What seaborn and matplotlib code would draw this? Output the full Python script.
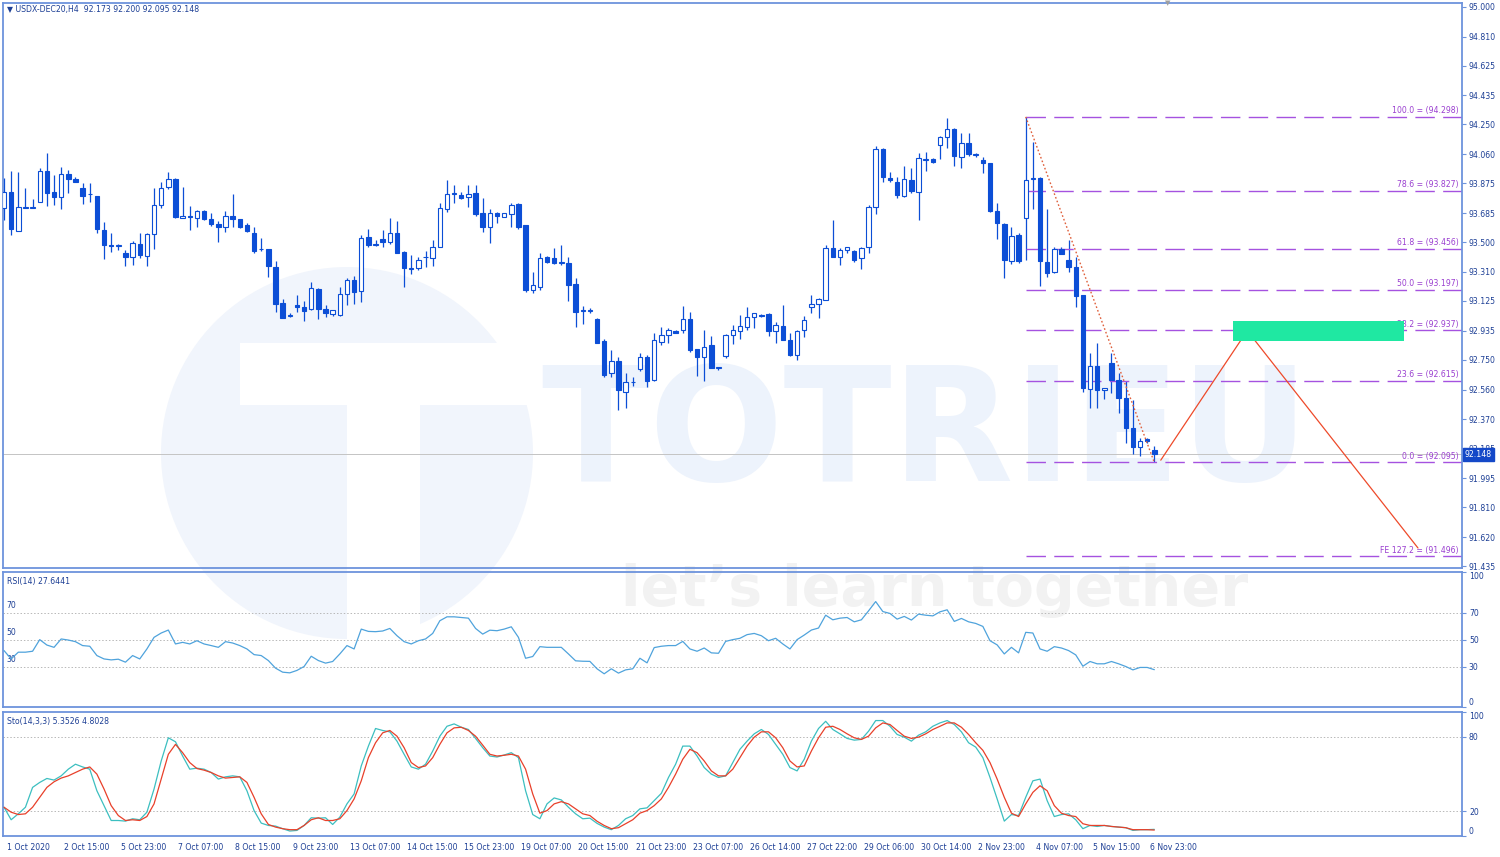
import matplotlib
matplotlib.use("Agg")
import matplotlib.pyplot as plt
import matplotlib.transforms as mtransforms
from matplotlib.patches import Rectangle, Circle
import seaborn as sns
import numpy as np
import pandas as pd

# ---- data (USDX-DEC20, H4) ----
opens = [
    93.719, 93.817, 93.572, 93.719, 93.719, 93.757, 93.952, 93.817, 93.785, 93.931,
    93.901, 93.846, 93.804, 93.793, 93.577, 93.481, 93.475, 93.428, 93.407, 93.487,
    93.411, 93.551, 93.736, 93.848, 93.901, 93.655, 93.668, 93.655, 93.700, 93.647,
    93.613, 93.593, 93.668, 93.644, 93.608, 93.560, 93.455, 93.453, 93.339, 93.113,
    93.029, 93.099, 93.088, 93.071, 93.199, 93.073, 93.039, 93.035, 93.169, 93.258,
    93.190, 93.530, 93.481, 93.519, 93.502, 93.555, 93.439, 93.330, 93.332, 93.403,
    93.400, 93.466, 93.710, 93.806, 93.802, 93.785, 93.810, 93.683, 93.594, 93.683,
    93.662, 93.679, 93.740, 93.609, 93.194, 93.216, 93.403, 93.400, 93.369, 93.369,
    93.230, 93.063, 93.063, 93.008, 92.872, 92.664, 92.745, 92.547, 92.605, 92.690,
    92.770, 92.622, 92.866, 92.908, 92.936, 92.940, 93.008, 92.817, 92.770, 92.845,
    92.700, 92.775, 92.908, 92.930, 92.957, 93.025, 93.038, 93.042, 92.930, 92.966,
    92.877, 92.781, 92.940, 93.089, 93.106, 93.131, 93.461, 93.403, 93.450, 93.446,
    93.397, 93.467, 93.722, 94.091, 93.907, 93.885, 93.794, 93.896, 93.822, 94.023,
    94.028, 94.119, 94.168, 94.221, 94.045, 94.130, 94.055, 94.023, 94.002, 93.701,
    93.613, 93.380, 93.546, 93.652, 93.900, 93.907, 93.376, 93.312, 93.454, 93.386,
    93.344, 93.163, 92.562, 92.707, 92.554, 92.728, 92.622, 92.505, 92.314, 92.193,
    92.244, 92.173,
]
highs = [
    93.906, 93.955, 93.948, 93.842, 93.772, 93.969, 94.065, 93.927, 93.976, 93.959,
    93.912, 93.878, 93.878, 93.793, 93.630, 93.555, 93.485, 93.449, 93.509, 93.555,
    93.555, 93.842, 93.884, 93.948, 93.906, 93.848, 93.729, 93.704, 93.704, 93.687,
    93.636, 93.700, 93.806, 93.644, 93.619, 93.593, 93.528, 93.453, 93.381, 93.135,
    93.046, 93.162, 93.126, 93.247, 93.205, 93.099, 93.067, 93.216, 93.269, 93.284,
    93.545, 93.581, 93.513, 93.577, 93.651, 93.636, 93.445, 93.417, 93.403, 93.445,
    93.513, 93.747, 93.895, 93.863, 93.821, 93.863, 93.863, 93.778, 93.708, 93.693,
    93.687, 93.747, 93.747, 93.609, 93.311, 93.428, 93.411, 93.460, 93.481, 93.403,
    93.269, 93.092, 93.078, 93.015, 92.881, 92.813, 92.770, 92.664, 92.642, 92.792,
    92.781, 92.919, 92.961, 92.951, 92.940, 93.093, 93.057, 92.817, 92.940, 92.902,
    92.702, 92.915, 92.972, 93.036, 93.085, 93.046, 93.042, 93.046, 92.993, 93.099,
    92.923, 92.940, 93.029, 93.163, 93.142, 93.482, 93.641, 93.461, 93.471, 93.450,
    93.471, 93.737, 94.113, 94.102, 93.949, 93.917, 93.985, 93.970, 94.066, 94.077,
    94.034, 94.176, 94.289, 94.225, 94.193, 94.198, 94.066, 94.040, 94.002, 93.747,
    93.620, 93.594, 93.556, 94.298, 94.140, 93.917, 93.709, 93.467, 93.467, 93.514,
    93.407, 93.163, 92.796, 92.855, 92.569, 92.796, 92.668, 92.617, 92.494, 92.250,
    92.250, 92.200,
]
lows = [
    93.640, 93.545, 93.572, 93.715, 93.715, 93.753, 93.732, 93.736, 93.708, 93.810,
    93.880, 93.740, 93.753, 93.555, 93.392, 93.438, 93.449, 93.347, 93.354, 93.396,
    93.347, 93.455, 93.719, 93.836, 93.651, 93.651, 93.577, 93.593, 93.640, 93.602,
    93.498, 93.562, 93.598, 93.587, 93.566, 93.428, 93.443, 93.275, 93.056, 93.014,
    93.024, 93.056, 92.999, 93.067, 93.007, 93.024, 93.029, 93.031, 93.099, 93.105,
    93.120, 93.470, 93.475, 93.466, 93.488, 93.428, 93.211, 93.296, 93.322, 93.343,
    93.349, 93.466, 93.693, 93.747, 93.772, 93.725, 93.666, 93.566, 93.496, 93.619,
    93.662, 93.594, 93.581, 93.184, 93.173, 93.194, 93.369, 93.360, 93.354, 93.126,
    92.957, 92.978, 93.046, 92.855, 92.642, 92.642, 92.430, 92.441, 92.583, 92.675,
    92.579, 92.617, 92.845, 92.855, 92.923, 92.923, 92.802, 92.647, 92.617, 92.696,
    92.685, 92.760, 92.851, 92.881, 92.940, 92.951, 93.025, 92.902, 92.855, 92.877,
    92.775, 92.749, 92.898, 93.046, 93.015, 93.131, 93.403, 93.354, 93.429, 93.376,
    93.327, 93.429, 93.679, 93.885, 93.885, 93.779, 93.790, 93.811, 93.641, 93.955,
    94.006, 94.028, 94.098, 93.985, 93.970, 94.049, 94.040, 93.938, 93.694, 93.518,
    93.269, 93.361, 93.369, 93.386, 93.709, 93.221, 93.280, 93.301, 93.424, 93.312,
    93.085, 92.547, 92.445, 92.445, 92.498, 92.537, 92.409, 92.218, 92.150, 92.137,
    92.222, 92.095,
]
closes = [
    93.817, 93.581, 93.721, 93.719, 93.725, 93.955, 93.810, 93.789, 93.931, 93.901,
    93.884, 93.793, 93.804, 93.581, 93.481, 93.475, 93.475, 93.407, 93.492, 93.417,
    93.551, 93.736, 93.846, 93.901, 93.661, 93.668, 93.657, 93.698, 93.644, 93.613,
    93.593, 93.668, 93.647, 93.598, 93.572, 93.445, 93.453, 93.349, 93.103, 93.018,
    93.029, 93.088, 93.063, 93.205, 93.073, 93.050, 93.065, 93.169, 93.258, 93.184,
    93.524, 93.481, 93.481, 93.502, 93.560, 93.428, 93.337, 93.330, 93.386, 93.403,
    93.466, 93.715, 93.806, 93.806, 93.783, 93.806, 93.679, 93.598, 93.683, 93.666,
    93.685, 93.736, 93.594, 93.194, 93.226, 93.396, 93.371, 93.364, 93.369, 93.226,
    93.056, 93.063, 93.063, 92.859, 92.653, 92.745, 92.554, 92.605, 92.605, 92.770,
    92.617, 92.877, 92.906, 92.940, 92.923, 93.008, 92.809, 92.770, 92.834, 92.696,
    92.700, 92.906, 92.940, 92.966, 93.021, 93.046, 93.027, 92.936, 92.972, 92.877,
    92.781, 92.936, 93.004, 93.106, 93.136, 93.461, 93.403, 93.450, 93.467, 93.386,
    93.461, 93.722, 94.093, 93.917, 93.896, 93.800, 93.902, 93.828, 94.034, 94.023,
    94.013, 94.172, 94.221, 94.049, 94.130, 94.060, 94.055, 94.006, 93.701, 93.620,
    93.386, 93.539, 93.382, 93.896, 93.907, 93.382, 93.305, 93.454, 93.424, 93.344,
    93.157, 92.569, 92.711, 92.558, 92.569, 92.622, 92.505, 92.314, 92.193, 92.235,
    92.229, 92.148,
]

rsi = [
    41.8, 35.6, 40.6, 40.6, 41.3, 49.9, 45.9, 44.2, 50.4, 49.6,
    48.4, 45.5, 45.0, 38.1, 35.6, 34.9, 35.4, 33.2, 38.1, 35.6,
    43.0, 51.6, 54.8, 57.0, 46.7, 47.9, 46.7, 49.1, 46.7, 45.5,
    44.2, 48.4, 47.4, 45.5, 43.0, 38.8, 38.1, 34.4, 28.8, 25.8,
    25.3, 27.1, 30.0, 37.6, 34.4, 32.5, 33.7, 39.3, 45.5, 43.0,
    57.7, 56.0, 55.8, 56.3, 58.2, 52.8, 48.4, 46.7, 49.1, 50.4,
    54.5, 63.9, 66.8, 66.8, 66.3, 65.8, 58.2, 54.0, 56.9, 56.5,
    57.7, 59.4, 51.6, 36.1, 37.4, 44.7, 44.2, 44.2, 44.2, 39.3,
    34.2, 33.9, 33.8, 28.3, 24.6, 28.3, 25.1, 27.5, 28.3, 36.1,
    32.7, 44.0, 45.0, 45.5, 45.5, 48.6, 43.0, 41.3, 43.7, 40.1,
    39.8, 48.6, 49.9, 50.9, 53.6, 54.5, 52.8, 49.1, 50.9, 46.7,
    43.0, 49.9, 53.3, 57.0, 58.5, 68.0, 64.6, 65.8, 66.3, 63.1,
    64.6, 71.2, 78.1, 70.7, 69.3, 65.1, 67.1, 64.4, 68.8, 68.0,
    67.5, 70.5, 72.0, 63.4, 65.6, 63.1, 61.9, 59.7, 49.1, 46.0,
    39.3, 44.2, 40.1, 55.3, 54.8, 43.0, 41.3, 44.7, 43.7, 41.8,
    38.6, 30.2, 33.7, 32.0, 32.0, 33.7, 32.0, 30.0, 27.5, 29.3,
    29.3, 27.64,
]
sto_main = [
    23.2, 13.1, 17.9, 23.2, 39.2, 43.2, 46.4, 45.1, 48.5, 53.9,
    57.9, 55.7, 53.9, 36.5, 24.5, 12.5, 12.5, 12.0, 13.9, 13.1,
    19.2, 37.9, 60.5, 79.2, 76.0, 64.5, 53.9, 54.7, 53.9, 51.2,
    45.9, 47.7, 48.5, 47.7, 36.5, 20.5, 10.4, 8.5, 8.0, 5.9,
    4.0, 4.5, 8.5, 14.7, 14.4, 14.7, 9.3, 15.2, 25.9, 33.9,
    56.5, 72.5, 86.7, 85.1, 84.0, 76.5, 65.9, 55.7, 53.9, 57.9,
    68.5, 80.5, 88.5, 90.4, 87.7, 85.9, 78.7, 71.2, 64.5, 63.7,
    65.3, 67.2, 63.2, 36.5, 17.3, 13.9, 25.9, 30.7, 29.1, 23.2,
    17.9, 13.9, 14.4, 10.2, 7.2, 5.1, 8.5, 13.9, 16.5, 21.9,
    22.7, 28.5, 34.4, 47.2, 57.9, 72.5, 72.5, 64.5, 55.2, 49.9,
    47.2, 48.5, 59.2, 69.9, 76.5, 82.4, 85.9, 81.9, 73.9, 65.9,
    55.2, 52.5, 61.9, 76.5, 86.7, 92.5, 85.9, 82.4, 78.7, 77.3,
    77.9, 84.5, 93.1, 93.1, 88.5, 81.9, 79.7, 76.5, 81.3, 84.0,
    88.5, 91.2, 93.1, 89.9, 84.0, 75.2, 71.7, 63.2, 47.2, 29.9,
    12.0, 17.3, 16.5, 31.2, 44.5, 45.9, 28.5, 15.7, 17.3, 17.9,
    13.1, 5.9, 8.5, 7.7, 8.5, 7.7, 7.2, 6.7, 4.5, 5.1,
    5.1, 5.35,
]
sto_signal = [
    23.2, 19.2, 17.3, 17.9, 23.2, 31.2, 39.2, 43.7, 46.7, 48.5,
    51.2, 53.9, 55.7, 49.9, 37.9, 24.5, 16.5, 12.5, 13.1, 12.5,
    15.7, 25.9, 45.9, 65.9, 73.9, 67.2, 59.2, 54.4, 53.1, 51.2,
    48.5, 46.7, 47.2, 47.7, 43.2, 31.2, 17.9, 9.3, 7.2, 5.9,
    5.1, 5.1, 8.5, 13.1, 14.7, 12.5, 12.5, 13.9, 20.5, 29.9,
    44.5, 63.2, 75.2, 83.2, 85.1, 80.5, 71.2, 59.2, 55.2, 56.5,
    63.2, 73.9, 83.2, 87.2, 87.7, 85.1, 80.5, 73.3, 65.9, 64.5,
    65.1, 65.9, 64.5, 53.9, 33.9, 18.4, 20.5, 25.9, 27.7, 25.9,
    21.9, 17.9, 16.5, 11.9, 8.5, 5.9, 6.7, 9.9, 13.1, 18.4,
    20.5, 24.5, 29.9, 39.2, 49.9, 61.9, 69.9, 67.2, 60.5, 52.5,
    48.5, 48.5, 53.9, 63.2, 72.5, 79.7, 84.0, 84.0, 79.2, 71.2,
    60.5, 55.7, 56.5, 68.5, 79.2, 87.7, 88.5, 85.9, 82.4, 79.2,
    77.9, 80.5, 87.2, 91.2, 89.9, 85.1, 80.5, 78.7, 79.7, 82.4,
    85.9, 88.5, 91.2, 91.2, 87.7, 81.9, 75.2, 69.1, 59.2, 45.9,
    31.2, 18.4, 15.7, 25.9, 35.2, 40.5, 36.5, 24.5, 18.4, 16.5,
    15.7, 9.9, 8.5, 8.5, 8.5, 7.7, 7.2, 6.7, 5.1, 5.1,
    5.1, 4.80,
]

date_labels = ["1 Oct 2020", "2 Oct 15:00", "5 Oct 23:00", "7 Oct 07:00", "8 Oct 15:00",
               "9 Oct 23:00", "13 Oct 07:00", "14 Oct 15:00", "15 Oct 23:00", "19 Oct 07:00",
               "20 Oct 15:00", "21 Oct 23:00", "23 Oct 07:00", "26 Oct 14:00", "27 Oct 22:00",
               "29 Oct 06:00", "30 Oct 14:00", "2 Nov 23:00", "4 Nov 07:00", "5 Nov 15:00",
               "6 Nov 23:00"]
date_bars = list(range(0, 161, 8))

price_ticks = [95.000, 94.810, 94.625, 94.435, 94.250, 94.060, 93.875, 93.685, 93.500, 93.310,
               93.125, 92.935, 92.750, 92.560, 92.370, 92.185, 91.995, 91.810, 91.620, 91.435]

fib_names = ["100.0", "78.6", "61.8", "50.0", "38.2", "23.6", "0.0", "FE 127.2"]
fib_prices = [94.298, 93.827, 93.456, 93.197, 92.937, 92.615, 92.095, 91.496]
fib_start_bar = 143
swing_bars = [143, 161]
swing_prices = [94.298, 92.095]
proj_bars = [161.9, 174.0, 197.9]
proj_prices = [92.11, 92.935, 91.55]
zone_bars = [172.0, 195.9]
zone_prices = [92.871, 92.999]
last_price = 92.148

# ---- styling ----
sns.set_style("white")
plt.rcParams["font.family"] = ["DejaVu Sans"]

BLUE = "#0c4ed6"
FRAME = "#6d93dc"
TXT = "#1d3f95"
FIB = "#a552e0"
W, H = 1500, 857

df = pd.DataFrame({"o": opens, "h": highs, "l": lows, "c": closes})
df["bar"] = np.arange(len(df))
df["up"] = df["c"] >= df["o"]
df["bottom"] = df[["o", "c"]].min(axis=1)
df["size"] = (df["c"] - df["o"]).abs().clip(lower=0.004)

fig = plt.figure(figsize=(W / 100, H / 100), dpi=100, facecolor="white")

# background layer in pixel units for the faint logo / watermark
bg = fig.add_axes([0, 0, 1, 1], zorder=-1)
bg.set_xlim(0, W)
bg.set_ylim(H, 0)
bg.axis("off")
bg.add_patch(Circle((347, 453), 186, facecolor="#f1f5fc", edgecolor="none"))
bg.add_patch(Rectangle((240, 343), 303, 62, facecolor="white", edgecolor="none"))
bg.add_patch(Rectangle((347, 343), 73, 300, facecolor="white", edgecolor="none"))
bg.text(925, 437, "TOTRIEU", ha="center", va="center", fontsize=114,
        fontweight="bold", color="#edf3fc")
bg.text(935, 590, "let\u2019s learn together", ha="center", va="center",
        fontsize=41, fontweight="bold", color="#f2f2f2")


def panel(top, bottom):
    return fig.add_axes([3 / W, 1 - bottom / H, 1459 / W, (bottom - top) / H])


ax = panel(3, 568)
ax_rsi = panel(572, 707)
ax_sto = panel(712, 836)

xlim = (-0.14, 204.06)
for a in (ax, ax_rsi, ax_sto):
    a.set_facecolor("none")
    a.set_xlim(*xlim)
    a.yaxis.tick_right()
    a.tick_params(axis="y", direction="out", length=3, width=0.8, color=FRAME,
                  labelsize=5.6, labelcolor=TXT, pad=2)
    a.tick_params(axis="x", length=0)
    for s in a.spines.values():
        s.set_color(FRAME)
        s.set_linewidth(1.3)
    a.set_xticks([])

# ---- main price panel ----
ax.set_ylim(91.4226, 95.0236)
ax.set_yticks(price_ticks)
ax.set_yticklabels([f"{p:.3f}" for p in price_ticks])

ax.axhline(last_price, color="#c4c4c4", lw=0.7, zorder=1)

ax.vlines(df["bar"], df["l"], df["h"], color=BLUE, lw=0.9, zorder=2)
up = df[df["up"]]
dn = df[~df["up"]]
ax.bar(up["bar"], up["size"], bottom=up["bottom"], width=0.62, facecolor="white",
       edgecolor=BLUE, linewidth=0.8, zorder=3)
ax.bar(dn["bar"], dn["size"], bottom=dn["bottom"], width=0.62, facecolor=BLUE,
       edgecolor=BLUE, linewidth=0.8, zorder=3)

# fibonacci levels
ax.hlines(fib_prices, fib_start_bar, xlim[1], color=FIB, lw=1.0,
          linestyle=(0, (14, 6)), zorder=2)
for name, p in zip(fib_names, fib_prices):
    ax.text(203.6, p + 0.012, f"{name} = ({p:.3f})", ha="right", va="bottom",
            fontsize=5.6, color="#9a3fd0", zorder=2)

ax.plot(swing_bars, swing_prices, color="#e0603c", lw=1.0, linestyle=(0, (1.2, 1.6)), zorder=4)
ax.plot(proj_bars, proj_prices, color="#ee4a2a", lw=0.9, zorder=4)
ax.add_patch(Rectangle((zone_bars[0], zone_prices[0]), zone_bars[1] - zone_bars[0],
                       zone_prices[1] - zone_prices[0], facecolor="#1fe8a2",
                       edgecolor="none", zorder=5))

ax.text(0.4, 94.985, "\u25bc USDX-DEC20,H4  92.173 92.200 92.095 92.148", ha="left",
        va="center", fontsize=5.6, color=TXT)
ax.text(162.9, 95.0236, "\u25bc", ha="center", va="center", fontsize=5, color="#a0a0a0")

tr = mtransforms.blended_transform_factory(ax.transAxes, ax.transData)
ax.text(1.002, last_price, f"{last_price:.3f}", transform=tr, ha="left", va="center",
        fontsize=5.6, color="white", clip_on=False,
        bbox=dict(boxstyle="square,pad=0.25", facecolor="#1448c8", edgecolor="#1448c8"))

# ---- RSI panel ----
ax_rsi.set_ylim(0, 100)
for lvl in (70, 50, 30):
    ax_rsi.axhline(lvl, color="#b8b8b8", lw=0.7, linestyle=(0, (1.5, 2)), zorder=1)
    ax_rsi.text(0.4, lvl + 1.5, str(lvl), ha="left", va="bottom", fontsize=5.6, color=TXT)
sns.lineplot(x=df["bar"], y=rsi, ax=ax_rsi, color="#4fa3dc", lw=0.9, zorder=3)
ax_rsi.set_yticks([100, 70, 50, 30, 0])
ax_rsi.set_yticklabels(["100", "70", "50", "30", "0"])
ax_rsi.get_yticklabels()[0].set_va("top")
ax_rsi.get_yticklabels()[-1].set_va("bottom")
ax_rsi.text(0.4, 96, "RSI(14) 27.6441", ha="left", va="top", fontsize=5.6, color=TXT)

# ---- Stochastic panel ----
ax_sto.set_ylim(0, 100)
for lvl in (80, 20):
    ax_sto.axhline(lvl, color="#b8b8b8", lw=0.7, linestyle=(0, (1.5, 2)), zorder=1)
sns.lineplot(x=df["bar"], y=sto_main, ax=ax_sto, color="#3cbfc0", lw=0.9, zorder=3)
sns.lineplot(x=df["bar"], y=sto_signal, ax=ax_sto, color="#e8402a", lw=0.9, zorder=4)
ax_sto.set_yticks([100, 80, 20, 0])
ax_sto.set_yticklabels(["100", "80", "20", "0"])
ax_sto.get_yticklabels()[0].set_va("top")
ax_sto.get_yticklabels()[-1].set_va("bottom")
ax_sto.text(0.4, 96, "Sto(14,3,3) 5.3526 4.8028", ha="left", va="top", fontsize=5.6, color=TXT)

for a in (ax_rsi, ax_sto):
    a.set_xlabel("")
    a.set_ylabel("")

ax_sto.set_xticks(date_bars)
ax_sto.set_xticklabels(date_labels)
ax_sto.tick_params(axis="x", direction="out", length=3, width=0.8, color=FRAME,
                   labelsize=5.6, labelcolor=TXT, pad=2)
shift = mtransforms.ScaledTranslation(2 / 72, 0, fig.dpi_scale_trans)
for lab in ax_sto.get_xticklabels():
    lab.set_ha("left")
    lab.set_transform(lab.get_transform() + shift)

fig.savefig("out.png", dpi=100, facecolor="white")
